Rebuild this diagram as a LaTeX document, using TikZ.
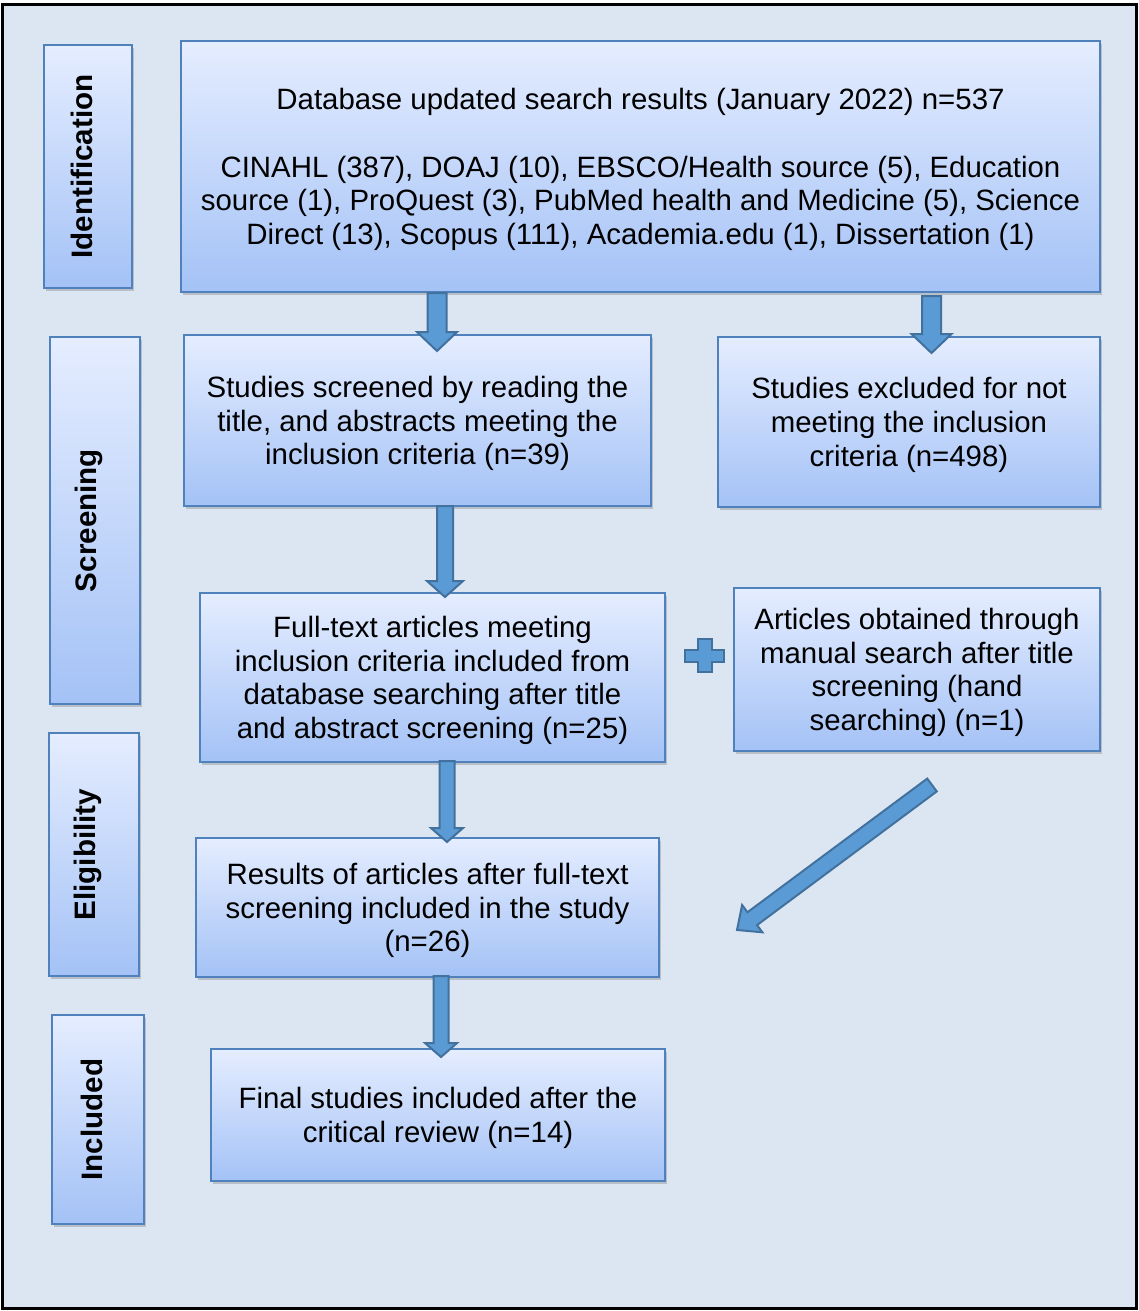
\documentclass[tikz,border=0pt]{standalone}
\usepackage{fontspec}
\setmainfont{Liberation Sans}
\usepackage{graphicx}
\usetikzlibrary{calc,shadows}
\definecolor{bg}{HTML}{DCE6F2}
\definecolor{boxtop}{HTML}{E5EDFF}
\definecolor{boxbot}{HTML}{A4C2F6}
\definecolor{boxline}{HTML}{4F81BD}
\definecolor{arrfill}{HTML}{5B9BD5}
\definecolor{arrline}{HTML}{41719C}
\newcommand\topstrut{\rule{0pt}{31pt}}
\newcommand\botstrut{\rule[-10pt]{0pt}{10pt}}
% #1 from, #2 tip, #3 shaft half width, #4 head half width, #5 head length
\newcommand\blockarrow[5]{%
  \coordinate (hb) at ($(#2)!#5pt!(#1)$);
  \draw[blockarr] ($(#1)!#3pt!90:(#2)$) -- ($(hb)!#3pt!90:(#2)$)
    -- ($(hb)!#4pt!90:(#2)$) -- (#2) -- ($(hb)!#4pt!-90:(#2)$)
    -- ($(hb)!#3pt!-90:(#2)$) -- ($(#1)!#3pt!-90:(#2)$) -- cycle;}
\tikzset{
  flowbox/.style={draw=boxline, line width=2pt, top color=boxtop, bottom color=boxbot,
    drop shadow={shadow xshift=1.5pt, shadow yshift=-3pt, opacity=.3, fill=black!60},
    align=center, inner sep=0pt, outer sep=0pt, font=\fontsize{29.4}{33.7}\selectfont},
  stagebox/.style={flowbox, font=\fontsize{29.6}{33.7}\selectfont\bfseries},
  blockarr/.style={fill=arrfill, draw=arrline, line width=2pt, line join=miter},
}
\begin{document}
\begin{tikzpicture}[x=1pt,y=-1pt]
\useasboundingbox (0,0) rectangle (1139,1311);
\fill[white] (0,0) rectangle (1139,1311);
\draw[line width=3pt, fill=bg] (2.5,4.5) rectangle (1136.5,1308.5);

% stage labels
\node[stagebox, minimum width=88, minimum height=243] (lid) at (88,166.5)
  {\rotatebox{90}{Identification}\hspace*{12pt}};
\node[stagebox, minimum width=90, minimum height=367] (lscr) at (95,520.5)
  {\rotatebox{90}{Screening}\hspace*{12pt}};
\node[stagebox, minimum width=90, minimum height=243] (lel) at (94,854.5)
  {\rotatebox{90}{Eligibility}\hspace*{12pt}};
\node[stagebox, minimum width=92, minimum height=209] (linc) at (98,1119.5)
  {\rotatebox{90}{Included}\hspace*{12pt}};

% boxes
\node[flowbox, minimum width=919, minimum height=251] (db) at (640.5,166.5)
  {\topstrut Database updated search results (January 2022) n=537\\[33.7pt]
   CINAHL (387), DOAJ (10), EBSCO/Health source (5), Education\\
   source (1), ProQuest (3), PubMed health and Medicine (5), Science\\
   Direct (13), Scopus (111), Academia.edu (1), Dissertation (1)\botstrut};
\node[flowbox, minimum width=467, minimum height=171] (scr) at (417.5,420.5)
  {\topstrut Studies screened by reading the\\ title, and abstracts meeting the\\ inclusion criteria (n=39)\botstrut};
\node[flowbox, minimum width=382, minimum height=170] (excl) at (909,422)
  {\topstrut Studies excluded for not\\ meeting the inclusion\\ criteria (n=498)\botstrut};
\node[flowbox, minimum width=465, minimum height=169] (full) at (432.5,677.5)
  {\topstrut Full-text articles meeting\\ inclusion criteria included from\\ database searching after title\\ and abstract screening (n=25)\botstrut};
\node[flowbox, minimum width=366, minimum height=163] (art) at (917,669.5)
  {\topstrut Articles obtained through\\ manual search after title\\ screening (hand\\ searching) (n=1)\botstrut};
\node[flowbox, minimum width=463, minimum height=139] (res) at (427.5,907.5)
  {\topstrut Results of articles after full-text\\ screening included in the study\\ (n=26)\botstrut};
\node[flowbox, minimum width=454, minimum height=132] (fin) at (438,1115)
  {\topstrut Final studies included after the\\ critical review (n=14)\botstrut};

% arrow positions
\coordinate (x1) at (437,0);
\coordinate (x2) at (931.5,0);
\coordinate (x3) at (445,0);
\coordinate (x4) at (447,0);
\coordinate (x5) at (441,0);
\coordinate (a1s) at ($(db.south -| x1)+(0,1)$);
\coordinate (a1e) at ($(scr.north -| x1)+(0,16)$);
\coordinate (a2s) at ($(db.south -| x2)+(0,4)$);
\coordinate (a2e) at ($(excl.north -| x2)+(0,16)$);
\coordinate (a3s) at ($(scr.south -| x3)+(0,0)$);
\coordinate (a3e) at ($(full.north -| x3)+(0,4)$);
\coordinate (a4s) at ($(full.south -| x4)+(0,-1)$);
\coordinate (a4e) at ($(res.north -| x4)+(0,4)$);
\coordinate (a5s) at ($(res.south -| x5)+(0,-1)$);
\coordinate (a5e) at ($(fin.north -| x5)+(0,8)$);
\coordinate (dtail) at (932,785);
\coordinate (dtip) at (737,930);

\blockarrow{a1s}{a1e}{9.5}{20}{19}
\blockarrow{a2s}{a2e}{9.5}{20}{19}
\blockarrow{a3s}{a3e}{8}{18}{16}
\blockarrow{a4s}{a4e}{7.5}{16}{14}
\blockarrow{a5s}{a5e}{7.5}{16}{14}
\blockarrow{dtail}{dtip}{8}{17}{19}

% plus sign
\coordinate (plus) at (704.5,655.5);
\draw[blockarr] ($(plus)+(-7,-16.5)$) -- ($(plus)+(7,-16.5)$) -- ($(plus)+(7,-6)$)
  -- ($(plus)+(19.5,-6)$) -- ($(plus)+(19.5,6)$) -- ($(plus)+(7,6)$)
  -- ($(plus)+(7,16.5)$) -- ($(plus)+(-7,16.5)$) -- ($(plus)+(-7,6)$)
  -- ($(plus)+(-19.5,6)$) -- ($(plus)+(-19.5,-6)$) -- ($(plus)+(-7,-6)$) -- cycle;
\end{tikzpicture}
\end{document}
